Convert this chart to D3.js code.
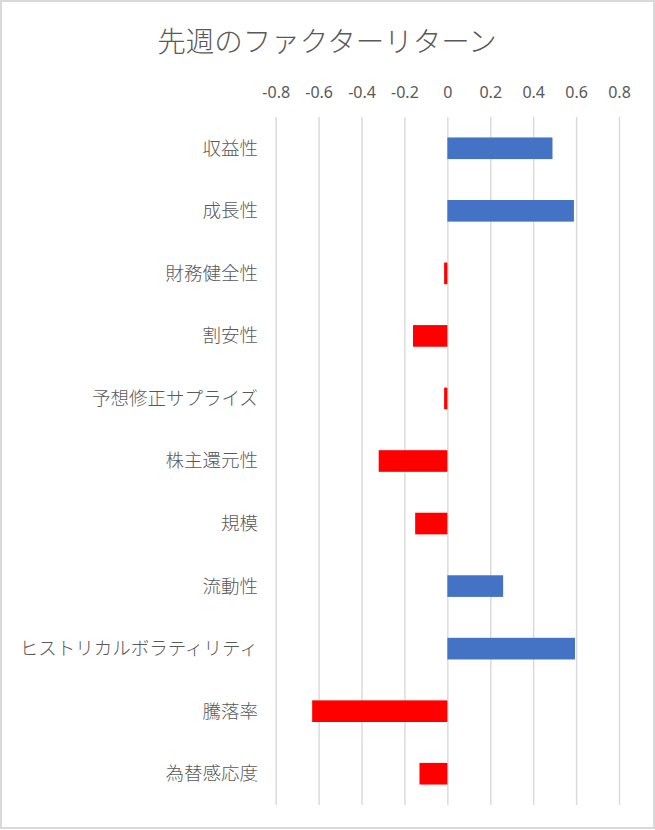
<!DOCTYPE html>
<html>
<head>
<meta charset="utf-8">
<script src="https://cdn.jsdelivr.net/npm/d3@7"></script>
<style>
  body { margin: 0; background: #fff; }
  svg { display: block; }
  text { font-family: "Noto Sans CJK JP", "Noto Sans", sans-serif; fill: #595959; }
</style>
</head>
<body>
<svg width="655" height="830"></svg>
<script>
var categories = ['収益性', '成長性', '財務健全性', '割安性', '予想修正サプライズ', '株主還元性',
  '規模', '流動性', 'ヒストリカルボラティリティ', '騰落率', '為替感応度'];
var returns = [0.49, 0.59, -0.015, -0.16, -0.015, -0.32, -0.15, 0.26, 0.595, -0.63, -0.13];
var tickValues = [-0.8, -0.6, -0.4, -0.2, 0, 0.2, 0.4, 0.6, 0.8];

var svg = d3.select('svg');

// outer frame
svg.append('rect')
  .attr('x', 1).attr('y', 1)
  .attr('width', 653).attr('height', 827)
  .attr('fill', '#fff')
  .attr('stroke', '#d9d9d9')
  .attr('stroke-width', 2);

var plotTop = 117, plotBottom = 805;

var x = d3.scaleLinear().domain([-0.8, 0.8]).range([275.7, 619]);
var y = d3.scaleBand().domain(categories).range([plotTop, plotBottom])
  .paddingInner(0.654).paddingOuter(0.327);

// title
svg.append('text')
  .attr('x', 327).attr('y', 52)
  .attr('text-anchor', 'middle')
  .style('font-size', '28.5px')
  .style('font-weight', 300)
  .text('先週のファクターリターン');

// vertical gridlines
var grid = svg.append('g')
  .attr('transform', 'translate(0,' + plotBottom + ')')
  .call(d3.axisBottom(x).tickValues(tickValues).tickSize(-(plotBottom - plotTop)).tickFormat(''));
grid.select('.domain').remove();
grid.selectAll('line').attr('stroke', '#d9d9d9').attr('stroke-width', 1.4);

// tick labels on top
var fmt = function(d) { return d === 0 ? '0' : d3.format('.1f')(d).replace('−', '-'); };
var axis = svg.append('g')
  .attr('transform', 'translate(0,98)')
  .call(d3.axisTop(x).tickValues(tickValues).tickSize(0).tickPadding(0).tickFormat(fmt));
axis.select('.domain').remove();
axis.selectAll('text')
  .attr('fill', '#595959')
  .style('font-family', '"Noto Sans", sans-serif')
  .style('font-size', '16px');

// bars
svg.append('g').selectAll('rect')
  .data(returns).enter().append('rect')
  .attr('x', function(d) { return x(Math.min(0, d)); })
  .attr('y', function(d, i) { return y(categories[i]); })
  .attr('width', function(d) { return Math.abs(x(d) - x(0)); })
  .attr('height', y.bandwidth())
  .attr('fill', function(d) { return d < 0 ? '#ff0000' : '#4472c4'; });

// category labels
svg.append('g').selectAll('text')
  .data(categories).enter().append('text')
  .attr('x', 258)
  .attr('y', function(d) { return y(d) + y.bandwidth() / 2; })
  .attr('dy', '0.35em')
  .attr('text-anchor', 'end')
  .style('font-size', '18.5px')
  .style('font-weight', 300)
  .text(function(d) { return d; });
</script>
</body>
</html>
